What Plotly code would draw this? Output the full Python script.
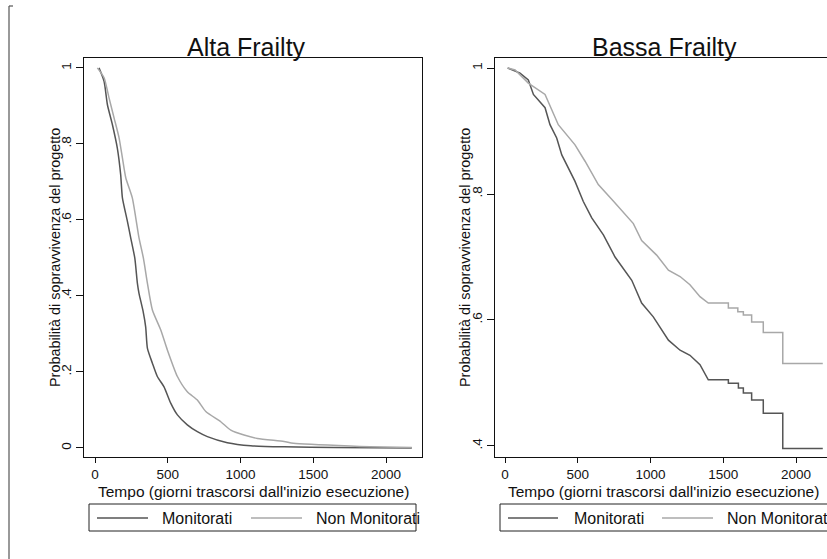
import plotly.graph_objects as go

# ---- data ----
alta_mon_t = [27, 62, 85, 119, 153, 176, 188, 222, 245, 273, 291, 302, 330, 348, 360, 394, 428, 474, 520, 566, 634, 703, 772, 909, 1070, 1299, 1650, 2177]
alta_mon_s = [1.0, 0.965, 0.903, 0.851, 0.789, 0.719, 0.658, 0.597, 0.553, 0.5, 0.433, 0.407, 0.36, 0.318, 0.262, 0.223, 0.188, 0.161, 0.118, 0.087, 0.061, 0.043, 0.030, 0.014, 0.006, 0.003, 0.001, 0.0]

alta_non_t = [16, 62, 96, 131, 165, 188, 211, 256, 280, 302, 332, 360, 394, 451, 497, 566, 634, 703, 761, 864, 933, 1024, 1116, 1299, 1363, 1753, 1890, 2177]
alta_non_s = [1.0, 0.974, 0.921, 0.868, 0.816, 0.763, 0.711, 0.658, 0.605, 0.553, 0.5, 0.433, 0.363, 0.311, 0.258, 0.188, 0.148, 0.126, 0.096, 0.069, 0.047, 0.034, 0.025, 0.017, 0.0123, 0.005, 0.0035, 0.001]

bassa_mon_t = [18, 103, 160, 195, 275, 309, 355, 390, 481, 538, 596, 676, 756, 871, 939, 1019, 1123, 1203, 1271, 1340, 1397,
               1535, 1535, 1604, 1604, 1638, 1638, 1695, 1695, 1775, 1775, 1909, 1909, 2184]
bassa_mon_s = [1.0, 0.992, 0.981, 0.958, 0.937, 0.91, 0.889, 0.862, 0.82, 0.788, 0.762, 0.735, 0.70, 0.663, 0.627, 0.605, 0.568, 0.552, 0.544, 0.529, 0.505,
               0.505, 0.4995, 0.4995, 0.492, 0.492, 0.484, 0.484, 0.473, 0.473, 0.452, 0.452, 0.396, 0.396]

bassa_non_t = [18, 69, 160, 275, 366, 481, 550, 641, 744, 882, 939, 1042, 1123, 1203, 1271, 1340, 1397,
               1535, 1535, 1600, 1600, 1638, 1638, 1695, 1695, 1775, 1775, 1909, 1909, 2184]
bassa_non_s = [1.0, 0.997, 0.976, 0.958, 0.91, 0.878, 0.852, 0.815, 0.789, 0.753, 0.726, 0.703, 0.679, 0.669, 0.656, 0.637, 0.627,
               0.627, 0.619, 0.619, 0.613, 0.613, 0.608, 0.608, 0.597, 0.597, 0.58, 0.58, 0.531, 0.531]

series_names = ["Monitorati", "Non Monitorati"]
panel_titles = ["Alta Frailty", "Bassa Frailty"]
x_ticks = [0, 500, 1000, 1500, 2000]
left_y_ticks = [0, 0.2, 0.4, 0.6, 0.8, 1]
left_y_text = ["0", ".2", ".4", ".6", ".8", "1"]
right_y_ticks = [0.4, 0.6, 0.8, 1]
right_y_text = [".4", ".6", ".8", "1"]
x_title = "Tempo (giorni trascorsi dall'inizio esecuzione)"
y_title = "Probabilità di sopravvivenza del progetto"

# ---- style ----
W, H = 827, 559
FONT = "Liberation Sans, Arial, sans-serif"
DARK = "#555555"
LIGHT = "#a8a8a8"

def px_x(p):
    return p / W

def px_y(p):
    return 1 - p / H

fig = go.Figure()
fig.add_trace(go.Scatter(x=alta_mon_t, y=alta_mon_s, xaxis="x", yaxis="y", mode="lines",
                         line=dict(color=DARK, width=1.5, shape="spline", smoothing=0.6), name=series_names[0], showlegend=False))
fig.add_trace(go.Scatter(x=alta_non_t, y=alta_non_s, xaxis="x", yaxis="y", mode="lines",
                         line=dict(color=LIGHT, width=1.5, shape="spline", smoothing=0.6), name=series_names[1], showlegend=False))
fig.add_trace(go.Scatter(x=bassa_mon_t, y=bassa_mon_s, xaxis="x2", yaxis="y2", mode="lines",
                         line=dict(color=DARK, width=1.5), name=series_names[0], showlegend=False))
fig.add_trace(go.Scatter(x=bassa_non_t, y=bassa_non_s, xaxis="x2", yaxis="y2", mode="lines",
                         line=dict(color=LIGHT, width=1.5), name=series_names[1], showlegend=False))

ydom = [px_y(457), px_y(58)]
axis_common = dict(showgrid=False, zeroline=False, showline=True, linecolor="#111111", linewidth=1,
                   automargin=False, ticks="outside", tickcolor="#111111",
                   tickfont=dict(family=FONT, size=13.5, color="#111111"))

fig.update_layout(
    width=W, height=H,
    margin=dict(l=0, r=0, t=0, b=0),
    paper_bgcolor="white", plot_bgcolor="white",
    xaxis=dict(domain=[px_x(84), px_x(422)], range=[-76, 2247], anchor="y", tickvals=x_ticks,
               mirror=True, ticklen=5, ticklabelstandoff=0, **axis_common),
    yaxis=dict(domain=ydom, range=[-0.0237, 1.026], anchor="x", tickvals=left_y_ticks, ticktext=left_y_text,
               tickangle=-90, mirror=True, ticklen=7, **axis_common),
    xaxis2=dict(domain=[px_x(495), 1.0], range=[-69, 2213], anchor="y2", tickvals=x_ticks,
                mirror=True, ticklen=5, ticklabelstandoff=0, **axis_common),
    yaxis2=dict(domain=ydom, range=[0.3825, 1.0159], anchor="x2", tickvals=right_y_ticks, ticktext=right_y_text,
                tickangle=-90, mirror=False, ticklen=7, **axis_common),
)

ann = []
# panel titles
for cx, t in [(246, panel_titles[0]), (664, panel_titles[1])]:
    ann.append(dict(x=px_x(cx), y=px_y(47), xref="paper", yref="paper", text=t, showarrow=False,
                    font=dict(family=FONT, size=25, color="#111111"), xanchor="center", yanchor="middle"))
# x titles
for cx in [253, 663]:
    ann.append(dict(x=px_x(cx), y=px_y(491), xref="paper", yref="paper", text=x_title, showarrow=False,
                    font=dict(family=FONT, size=15.5, color="#111111"), xanchor="center", yanchor="middle"))
# y titles
for cx in [55, 465]:
    ann.append(dict(x=px_x(cx), y=px_y(258), xref="paper", yref="paper", text=y_title, showarrow=False,
                    textangle=-90, font=dict(family=FONT, size=14.4, color="#111111"),
                    xanchor="center", yanchor="middle"))

shapes = []
# outer frame line at left
shapes.append(dict(type="line", xref="paper", yref="paper", x0=px_x(9), x1=px_x(9), y0=px_y(6), y1=0,
                   line=dict(color="#555555", width=1.2)))
shapes.append(dict(type="line", xref="paper", yref="paper", x0=px_x(9), x1=px_x(13), y0=px_y(6), y1=px_y(6),
                   line=dict(color="#555555", width=1.2)))

# legends (drawn per panel)
legends = [
    dict(box=(89, 416), s1=(97, 148), t1=160, s2=(251, 302), t2=314),
    dict(box=(500, 828), s1=(508, 558), t1=572, s2=(662, 713), t2=725),
]
for lg in legends:
    shapes.append(dict(type="rect", xref="paper", yref="paper", x0=px_x(lg["box"][0]), x1=px_x(lg["box"][1]),
                       y0=px_y(531), y1=px_y(504), line=dict(color="#222222", width=1), fillcolor="rgba(0,0,0,0)"))
    for (a, b), col in [(lg["s1"], DARK), (lg["s2"], LIGHT)]:
        shapes.append(dict(type="line", xref="paper", yref="paper", x0=px_x(a), x1=px_x(b), y0=px_y(518), y1=px_y(518),
                           line=dict(color=col, width=1.5)))
    for tx, name in [(lg["t1"], series_names[0]), (lg["t2"], series_names[1])]:
        ann.append(dict(x=px_x(tx), y=px_y(518), xref="paper", yref="paper", text=name, showarrow=False,
                        font=dict(family=FONT, size=16, color="#111111"), xanchor="left", yanchor="middle"))

fig.update_layout(annotations=ann, shapes=shapes)
fig.write_html("out.html", config={"displayModeBar": False},
               post_script="document.body.style.margin='0px';")
